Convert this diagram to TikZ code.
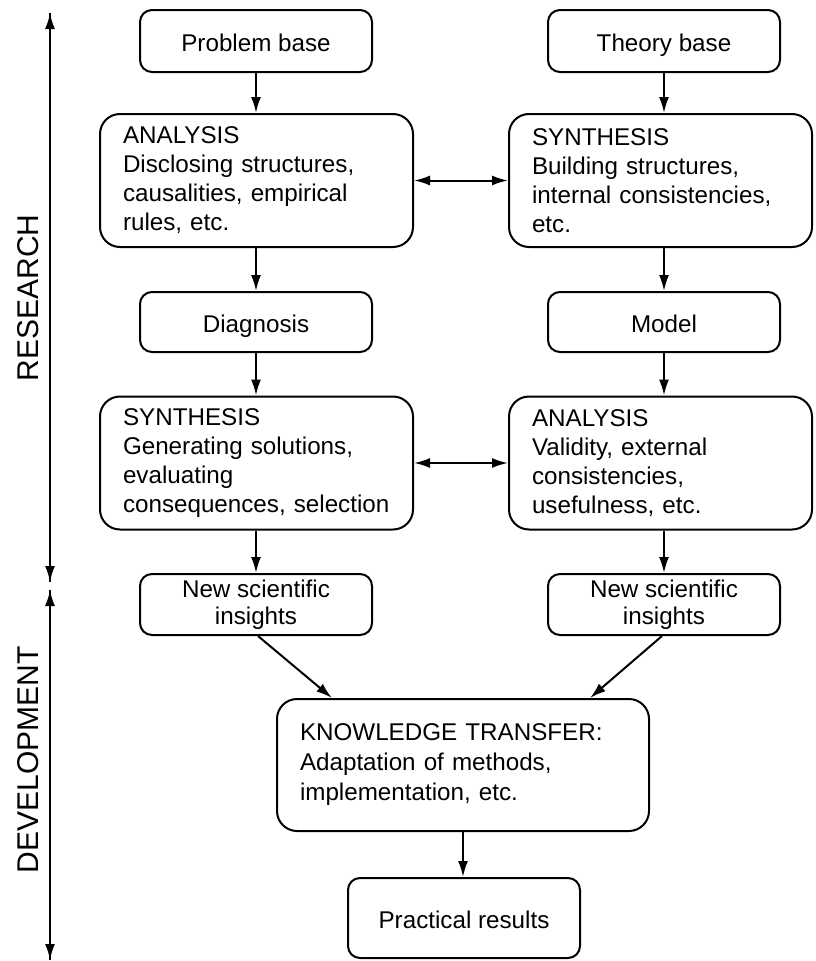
\documentclass[tikz,border=0pt]{standalone}
\usepackage{fontspec}
\setmainfont{Liberation Sans}
\usetikzlibrary{arrows.meta}
\newcommand{\boxfont}{\fontsize{24.2}{29}\selectfont}
\newcommand{\insightfont}{\fontsize{24.2}{27}\selectfont}
\newcommand{\phasefont}{\fontsize{30}{34}\selectfont}
\begin{document}
\begin{tikzpicture}[x=1pt, y=-1pt,
  box/.style={draw, line width=2pt, font=\boxfont, inner sep=0pt},
  smallbox/.style={box, rounded corners=12pt, minimum width=232pt, align=center},
  oneline/.style={text height=21pt, text depth=0pt},
  widebox/.style={box, rounded corners=20pt, minimum height=133pt, align=left, inner xsep=23pt},
  arr/.style={line width=2pt, -{Latex[length=16pt, width=10pt]}},
  darr/.style={line width=2pt, {Latex[length=16pt, width=10pt]}-{Latex[length=16pt, width=10pt]}},
  phase/.style={font=\phasefont, rotate=90, inner sep=0pt}
]
\useasboundingbox (0,0) rectangle (815,961);

% phase axis on the left
\coordinate (rtop) at (50,13);
\coordinate (rbot) at (50,582);
\coordinate (dtop) at (50,590);
\coordinate (dbot) at (50,960);
\draw[arr] (rbot) -- (rtop);
\draw[arr] (rtop) -- (rbot);
\draw[arr] (dbot) -- (dtop);
\draw[arr] (dtop) -- (dbot);
\node[phase] (research) at (28,298) {RESEARCH};
\node[phase] (development) at (28,760) {DEVELOPMENT};

% left column
\node[smallbox, oneline, minimum height=62pt] (pb) at (256,41) {Problem base};
\node[widebox, text width=267pt] (an1) at (256.5,180.5)
  {ANALYSIS\\Disclosing structures,\\causalities, empirical\\rules, etc.};
\node[smallbox, oneline, minimum height=60pt] (dg) at (256,322) {Diagnosis};
\node[widebox, text width=267pt] (syn1) at (256.5,463)
  {SYNTHESIS\\Generating solutions,\\evaluating\\\mbox{consequences, selection}};
\node[smallbox, minimum height=61pt, font=\insightfont] (ns1) at (256,604.5)
  {New scientific\\insights};

% right column
\node[smallbox, oneline, minimum height=62pt] (tb) at (664,41) {Theory base};
\node[widebox, text width=257pt] (syn2) at (660.5,180.5)
  {SYNTHESIS\\Building structures,\\internal consistencies,\\etc.};
\node[smallbox, oneline, minimum height=60pt] (md) at (664,322) {Model};
\node[widebox, text width=257pt] (an2) at (660.5,463)
  {ANALYSIS\\Validity, external\\consistencies,\\usefulness, etc.};
\node[smallbox, minimum height=61pt, font=\insightfont] (ns2) at (664,604.5)
  {New scientific\\insights};

% development
\node[widebox, minimum height=132pt, text width=326pt, font=\fontsize{24.2}{30}\selectfont] (kt) at (463,765)
  {KNOWLEDGE TRANSFER:\\Adaptation of methods,\\implementation, etc.};
\node[smallbox, oneline, minimum height=80pt] (pr) at (464,918) {Practical results};

% connectors
\draw[arr] (pb.south) -- (pb.south |- an1.north);
\draw[arr] (an1.south -| dg.north) -- (dg.north);
\draw[arr] (dg.south) -- (dg.south |- syn1.north);
\draw[arr] (syn1.south -| ns1.north) -- (ns1.north);

\draw[arr] (tb.south) -- (tb.south |- syn2.north);
\draw[arr] (syn2.south -| md.north) -- (md.north);
\draw[arr] (md.south) -- (md.south |- an2.north);
\draw[arr] (an2.south -| ns2.north) -- (ns2.north);

\draw[darr] (an1.east) -- (syn2.west);
\draw[darr] (syn1.east) -- (an2.west);

\draw[arr] ([xshift=2pt]ns1.south) -- ([xshift=-131pt]kt.north);
\draw[arr] ([xshift=-2pt]ns2.south) -- ([xshift=127pt]kt.north);
\draw[arr] (kt.south) -- (kt.south |- pr.north);
\end{tikzpicture}
\end{document}
